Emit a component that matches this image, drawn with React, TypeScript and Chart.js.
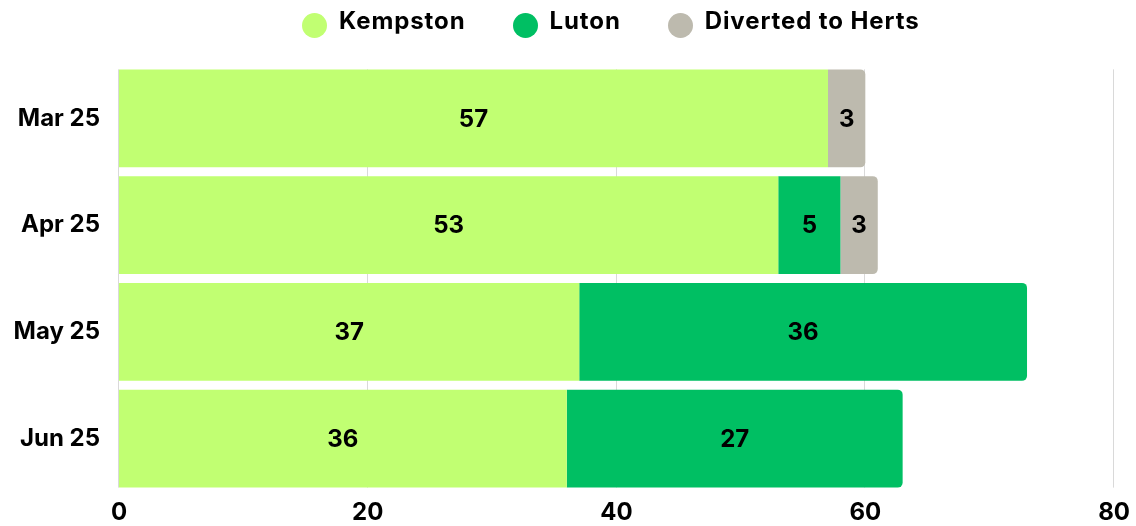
import React, { useEffect, useRef } from "react";
import { Chart, registerables } from "chart.js";

Chart.register(...registerables);

const categories = ["Mar 25", "Apr 25", "May 25", "Jun 25"];
const kempston = [57, 53, 37, 36];
const luton = [0, 5, 36, 27];
const divertedToHerts = [3, 3, 0, 0];
const xTicks = [0, 20, 40, 60, 80];

const seriesNames = ["Kempston", "Luton", "Diverted to Herts"];
const seriesColors = ["#C1FF72", "#00BF63", "#BDBAAE"];

const FONT = "Inter, 'DejaVu Sans', sans-serif";

const gridPlugin = {
  id: "customGrid",
  beforeDatasetsDraw(chart: any) {
    const { ctx } = chart;
    const xs = chart.scales.x;
    const meta0 = chart.getDatasetMeta(0);
    const els = meta0.data;
    if (!els.length) return;
    const first = els[0];
    const last = els[els.length - 1];
    const top = first.y - first.height / 2;
    const bottom = last.y + last.height / 2;
    ctx.save();
    ctx.strokeStyle = "#D9D9D9";
    ctx.lineWidth = 1;
    xTicks.forEach((v) => {
      const px = Math.round(xs.getPixelForValue(v)) - 0.5;
      ctx.beginPath();
      ctx.moveTo(px, top);
      ctx.lineTo(px, bottom);
      ctx.stroke();
    });
    ctx.restore();
  },
};

const labelPlugin = {
  id: "barLabels",
  afterDatasetsDraw(chart: any) {
    const { ctx } = chart;
    ctx.save();
    ctx.font = `700 24px ${FONT}`;
    ctx.fillStyle = "#000000";
    ctx.textAlign = "center";
    ctx.textBaseline = "middle";
    chart.data.datasets.forEach((ds: any, di: number) => {
      const meta = chart.getDatasetMeta(di);
      meta.data.forEach((el: any, i: number) => {
        const v = ds.data[i];
        if (!v) return;
        const cx = (el.x + el.base) / 2;
        ctx.fillText(String(v), cx, el.y + 1);
      });
    });
    ctx.restore();
  },
};

export default function App() {
  const canvasRef = useRef<HTMLCanvasElement | null>(null);

  useEffect(() => {
    document.body.style.margin = "0";
    const canvas = canvasRef.current;
    if (!canvas) return;
    const data = [kempston, luton, divertedToHerts];
    const chart = new Chart(canvas, {
      type: "bar",
      data: {
        labels: categories,
        datasets: seriesNames.map((name, i) => ({
          label: name,
          data: data[i],
          backgroundColor: seriesColors[i],
          borderWidth: 0,
          borderRadius: 5,
          borderSkipped: "start" as const,
          categoryPercentage: 1,
          barPercentage: 0.918,
        })),
      },
      options: {
        indexAxis: "y",
        animation: false,
        responsive: false,
        maintainAspectRatio: false,
        layout: { padding: { top: 65, right: 21, bottom: 0, left: 0 } },
        plugins: {
          legend: { display: false },
          tooltip: { enabled: false },
        },
        scales: {
          x: {
            stacked: true,
            min: 0,
            max: 80,
            afterBuildTicks(scale: any) {
              scale.ticks = xTicks.map((v) => ({ value: v }));
            },
            afterFit(scale: any) {
              scale.height = 34;
            },
            grid: { display: false, drawTicks: false },
            border: { display: false },
            ticks: {
              padding: 6,
              color: "#000000",
              font: { family: FONT, size: 24, weight: "bold" },
              maxRotation: 0,
              autoSkip: false,
            },
          },
          y: {
            stacked: true,
            afterFit(scale: any) {
              scale.width = 119;
            },
            grid: { display: false, drawTicks: false },
            border: { display: false },
            ticks: {
              padding: 19,
              color: "#000000",
              font: { family: FONT, size: 24, weight: "bold" },
            },
          },
        },
      },
      plugins: [gridPlugin, labelPlugin],
    });
    return () => chart.destroy();
  }, []);

  return (
    <div style={{ position: "relative", width: 1136, height: 526, background: "#FFFFFF" }}>
      <canvas
        ref={canvasRef}
        width={1136}
        height={526}
        style={{ position: "absolute", left: 0, top: 0, width: 1136, height: 526 }}
      />
      <div
        style={{
          position: "absolute",
          left: 302,
          top: 0,
          height: 50,
          display: "flex",
          alignItems: "center",
          fontFamily: FONT,
          fontWeight: 700,
          fontSize: 24,
          letterSpacing: "0.9px",
          color: "#000000",
          whiteSpace: "nowrap",
        }}
      >
        {seriesNames.map((name, i) => (
          <div key={name} style={{ display: "flex", alignItems: "center", marginRight: i < seriesNames.length - 1 ? 47 : 0 }}>
            <span
              style={{
                display: "inline-block",
                width: 25,
                height: 25,
                borderRadius: "50%",
                background: seriesColors[i],
                marginRight: 12,
              }}
            />
            <span style={{ lineHeight: 1, position: "relative", top: -4 }}>{name}</span>
          </div>
        ))}
      </div>
    </div>
  );
}
